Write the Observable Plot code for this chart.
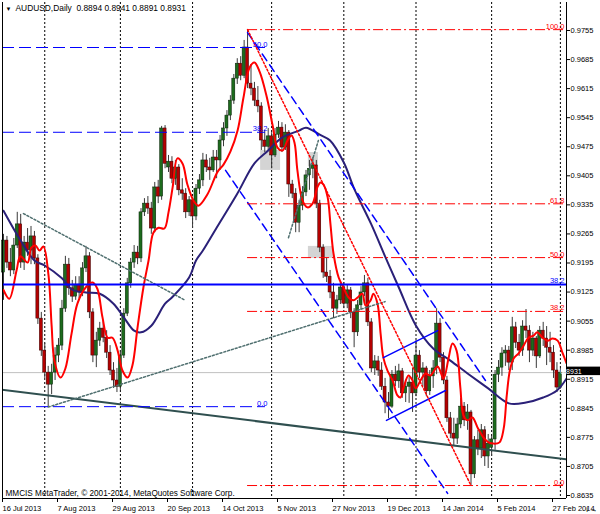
<!DOCTYPE html>
<html><head><meta charset="utf-8">
<script src="https://cdn.jsdelivr.net/npm/d3@7"></script>
<script src="https://cdn.jsdelivr.net/npm/@observablehq/plot@0.6"></script>
<style>body{margin:0;background:#fff}</style>
</head><body><div id="chart"></div>
<script>
// ---------- DATA ----------
const symbol = "AUDUSD", timeframe = "Daily";
const open = [0.9172,0.9249,0.9196,0.9177,0.9237,0.9288,0.9196,0.9244,0.9225,0.9259,0.9206,0.9061,0.8984,0.8931,0.8902,0.8931,0.8972,0.8996,0.9085,0.9191,0.9134,0.9114,0.9143,0.9124,0.9182,0.9211,0.9076,0.8972,0.9008,0.9037,0.9015,0.8979,0.8936,0.8912,0.8897,0.8972,0.9073,0.9146,0.9196,0.9220,0.9206,0.9317,0.9338,0.9326,0.9278,0.9377,0.9355,0.9519,0.9425,0.9439,0.9398,0.9425,0.9370,0.9362,0.9317,0.9346,0.9307,0.9374,0.9394,0.9442,0.9425,0.9418,0.9449,0.9442,0.9490,0.9519,0.9550,0.9586,0.9639,0.9675,0.9646,0.9714,0.9627,0.9615,0.9586,0.9572,0.9490,0.9475,0.9500,0.9454,0.9504,0.9521,0.9473,0.9509,0.9384,0.9362,0.9292,0.9333,0.9365,0.9406,0.9422,0.9430,0.9338,0.9232,0.9172,0.9162,0.9124,0.9085,0.9105,0.9136,0.9097,0.9129,0.9076,0.9028,0.9093,0.9124,0.9146,0.9052,0.8941,0.8958,0.8936,0.8897,0.8859,0.8849,0.8926,0.8910,0.8934,0.8881,0.8897,0.8907,0.8881,0.8972,0.8931,0.8941,0.8886,0.8922,0.8941,0.9049,0.8967,0.8912,0.8821,0.8784,0.8772,0.8806,0.8849,0.8816,0.8835,0.8686,0.8768,0.8748,0.8792,0.8729,0.8750,0.8770,0.8926,0.8943,0.8977,0.8984,0.8955,0.9040,0.9003,0.8984,0.9042,0.9032,0.8984,0.9013,0.8970,0.9032,0.9013,0.8991,0.8979,0.8936,0.8894];
const high = [0.9264,0.9259,0.9230,0.9254,0.9317,0.9312,0.9259,0.9278,0.9283,0.9271,0.9215,0.9076,0.9001,0.8946,0.8951,0.8991,0.9013,0.9105,0.9211,0.9206,0.9153,0.9162,0.9162,0.9196,0.9235,0.9220,0.9085,0.9028,0.9052,0.9056,0.9032,0.8996,0.8955,0.8941,0.8984,0.9085,0.9158,0.9206,0.9237,0.9235,0.9326,0.9350,0.9355,0.9341,0.9389,0.9394,0.9524,0.9526,0.9454,0.9451,0.9442,0.9432,0.9398,0.9374,0.9355,0.9350,0.9384,0.9408,0.9459,0.9456,0.9447,0.9466,0.9466,0.9502,0.9533,0.9562,0.9598,0.9649,0.9687,0.9692,0.9731,0.9757,0.9673,0.9630,0.9620,0.9581,0.9514,0.9519,0.9509,0.9519,0.9536,0.9533,0.9528,0.9514,0.9394,0.9374,0.9346,0.9379,0.9418,0.9442,0.9449,0.9442,0.9346,0.9239,0.9206,0.9177,0.9146,0.9117,0.9148,0.9148,0.9141,0.9136,0.9085,0.9105,0.9138,0.9165,0.9158,0.9061,0.8972,0.8970,0.8955,0.8917,0.8883,0.8936,0.8946,0.8951,0.8941,0.8912,0.8919,0.8941,0.9008,0.8984,0.8955,0.8946,0.8936,0.8960,0.9085,0.9061,0.8979,0.8922,0.8835,0.8821,0.8821,0.8869,0.8859,0.8854,0.8840,0.8777,0.8792,0.8806,0.8801,0.8782,0.8777,0.8936,0.8960,0.8991,0.8996,0.8994,0.9064,0.9052,0.9023,0.9056,0.9083,0.9044,0.9028,0.9018,0.9042,0.9052,0.9042,0.9028,0.8996,0.8955,0.8941];
const low = [0.9105,0.9182,0.9162,0.9167,0.9230,0.9182,0.9177,0.9211,0.9191,0.9191,0.9047,0.8970,0.8917,0.8847,0.8878,0.8912,0.8955,0.8984,0.9076,0.9117,0.9100,0.9105,0.9109,0.9114,0.9172,0.9061,0.8955,0.8943,0.8994,0.9003,0.8965,0.8924,0.8893,0.8883,0.8888,0.8965,0.9066,0.9134,0.9182,0.9191,0.9196,0.9307,0.9312,0.9264,0.9268,0.9338,0.9346,0.9422,0.9413,0.9386,0.9382,0.9357,0.9346,0.9302,0.9307,0.9278,0.9297,0.9360,0.9379,0.9413,0.9394,0.9413,0.9398,0.9418,0.9475,0.9500,0.9538,0.9577,0.9625,0.9634,0.9639,0.9615,0.9598,0.9572,0.9557,0.9466,0.9461,0.9466,0.9422,0.9449,0.9495,0.9461,0.9466,0.9353,0.9350,0.9268,0.9268,0.9321,0.9355,0.9370,0.9398,0.9326,0.9220,0.9158,0.9148,0.9109,0.9061,0.9071,0.9095,0.9085,0.9085,0.9061,0.8991,0.9018,0.9081,0.9114,0.9042,0.8931,0.8924,0.8922,0.8888,0.8832,0.8820,0.8845,0.8897,0.8893,0.8869,0.8859,0.8857,0.8835,0.8873,0.8917,0.8897,0.8873,0.8876,0.8893,0.8926,0.8955,0.8902,0.8811,0.8772,0.8753,0.8758,0.8796,0.8801,0.8792,0.8659,0.8676,0.8731,0.8724,0.8705,0.8700,0.8729,0.8744,0.8907,0.8922,0.8946,0.8936,0.8936,0.8989,0.8970,0.8970,0.9013,0.8955,0.8970,0.8941,0.8965,0.8994,0.8948,0.8955,0.8917,0.8883,0.8891];
const close = [0.9249,0.9196,0.9177,0.9237,0.9288,0.9196,0.9244,0.9225,0.9259,0.9206,0.9061,0.8984,0.8931,0.8902,0.8931,0.8972,0.8996,0.9085,0.9191,0.9134,0.9114,0.9143,0.9124,0.9182,0.9211,0.9076,0.8972,0.9008,0.9037,0.9015,0.8979,0.8936,0.8912,0.8897,0.8972,0.9073,0.9146,0.9196,0.9220,0.9206,0.9317,0.9338,0.9326,0.9278,0.9377,0.9355,0.9519,0.9434,0.9439,0.9398,0.9425,0.9370,0.9362,0.9317,0.9346,0.9307,0.9374,0.9394,0.9442,0.9425,0.9418,0.9449,0.9442,0.9490,0.9519,0.9550,0.9586,0.9639,0.9675,0.9646,0.9714,0.9627,0.9615,0.9586,0.9572,0.9490,0.9475,0.9500,0.9454,0.9504,0.9521,0.9473,0.9509,0.9384,0.9362,0.9292,0.9333,0.9365,0.9406,0.9422,0.9430,0.9338,0.9232,0.9172,0.9162,0.9124,0.9085,0.9105,0.9136,0.9097,0.9129,0.9076,0.9028,0.9093,0.9124,0.9146,0.9052,0.8941,0.8958,0.8936,0.8897,0.8859,0.8849,0.8926,0.8910,0.8934,0.8881,0.8897,0.8907,0.8881,0.8972,0.8931,0.8941,0.8886,0.8922,0.8941,0.9049,0.8967,0.8912,0.8821,0.8784,0.8772,0.8806,0.8849,0.8816,0.8835,0.8686,0.8768,0.8748,0.8792,0.8729,0.8760,0.8770,0.8926,0.8943,0.8977,0.8984,0.8955,0.9040,0.9003,0.8984,0.9042,0.9032,0.8984,0.9013,0.8970,0.9032,0.9013,0.8991,0.8979,0.8936,0.8895,0.8931];

// fast (red) moving average: bar index / price
const redIdx = [0,1.7,3.8,4.9,7.0,8.1,9.3,10.5,11.6,13.1,14.0,14.8,16.6,18.0,19.8,21.5,23.9,25.9,27.3,28.8,30.3,31.7,33.2,34.6,36.1,37.5,39.0,40.7,42.2,43.6,45.1,46.8,48.0,49.2,50.6,52.1,53.5,55.3,56.7,59.3,62.3,64.0,66.0,68.1,69.8,71.6,73.0,74.5,76.5,78.3,79.7,81.2,82.6,83.8,84.7,85.5,87.0,88.4,89.9,91.3,92.2,93.1,94.3,95.1,96.0,97.5,98.9,100.4,101.8,103.0,104.4,105.3,106.8,107.6,108.8,109.7,110.5,111.7,113.2,114.6,115.5,116.4,117.8,119.0,119.9,121.3,122.8,124.2,126.3,128.0,129.5,130.6,131.8,132.9,133.8,135.0,136.4,137.9,139.6,141.1,142.5,144.3,145.5,146.4,147.3,148.4,149.8,151.3,152.7,154.2,155.3,156.8,158.3,159.7,161.2,162.6,163.8];
const redVal = [0.9130,0.9109,0.9177,0.9211,0.9196,0.9232,0.9237,0.9225,0.9235,0.9165,0.9044,0.8960,0.8919,0.8941,0.9025,0.9097,0.9136,0.9148,0.9133,0.9064,0.9015,0.9015,0.8984,0.8936,0.8919,0.8948,0.9040,0.9136,0.9201,0.9268,0.9280,0.9278,0.9317,0.9377,0.9447,0.9434,0.9384,0.9345,0.9333,0.9360,0.9415,0.9432,0.9463,0.9514,0.9593,0.9666,0.9678,0.9656,0.9598,0.9526,0.9473,0.9466,0.9490,0.9502,0.9483,0.9418,0.9345,0.9329,0.9338,0.9377,0.9389,0.9384,0.9353,0.9290,0.9218,0.9160,0.9136,0.9112,0.9105,0.9112,0.9121,0.9093,0.9105,0.9121,0.9097,0.9025,0.8967,0.8936,0.8912,0.8876,0.8871,0.8895,0.8924,0.8912,0.8893,0.8912,0.8929,0.8924,0.8946,0.8917,0.8967,0.9001,0.8984,0.8895,0.8828,0.8816,0.8823,0.8799,0.8775,0.8763,0.8760,0.8763,0.8796,0.8876,0.8936,0.8965,0.8977,0.8996,0.9015,0.9020,0.9028,0.9015,0.9008,0.9013,0.9008,0.8979,0.8953];
// slow (navy) moving average
const navyIdx = [0,5,9,12,17,20,24,28,32,35,38,40,43,47,49,54,56,58,62,68,73,77,81,86,88,92,95,99,102,107,111,115,120,125,130,135,141,147,152,157,161,163.8];
const navyVal = [0.9321,0.9249,0.9201,0.9189,0.9158,0.9131,0.9124,0.9121,0.9097,0.9064,0.9032,0.9028,0.9044,0.9097,0.9112,0.9160,0.9201,0.9225,0.9280,0.9362,0.9435,0.9466,0.9497,0.9514,0.9521,0.9504,0.9490,0.9437,0.9374,0.9288,0.9211,0.9136,0.9044,0.8989,0.8960,0.8929,0.8893,0.8857,0.8859,0.8871,0.8888,0.8917];

// axis ticks
const yTicks = [0.8635,0.8705,0.8775,0.8845,0.8915,0.8985,0.9055,0.9125,0.9195,0.9265,0.9335,0.9405,0.9475,0.9545,0.9615,0.9685,0.9755];
const xTickIdx = [0,16,32,48,64,80,96,112,128,144,160];
const xTickLabels = ["16 Jul 2013","7 Aug 2013","29 Aug 2013","20 Sep 2013","14 Oct 2013","5 Nov 2013","27 Nov 2013","19 Dec 2013","14 Jan 2014","5 Feb 2014","27 Feb 2014"];
const separatorIdx = [12,34,55,78,99,120,142,162];

// Fibonacci objects
const fibRedHigh = 0.9757, fibRedLow = 0.8659, fibRedStart = 71;
const fibRedLevels = [0, 38.2, 50, 61.8, 100];
const fibBlueZero = 0.8849, fibBlueHalf = 0.9714, fibBlueEnd = 76.2;
const fibBlueLevels = [0, 38.2, 50];
const hLineBlue = 0.9143, hLineBlueLabel = "38.2";

// trend lines / channels (bar index, price)
const trendMain = [[-0.87, 0.8890], [163.8, 0.8722]];
const channelUpper = [[71, 0.9750], [140.2, 0.8912]];
const channelLower = [[64.6, 0.9418], [129.2, 0.8640]];
const fibDiag = [[71, 0.9757], [136, 0.8659]];
const dotRising = [[13, 0.8848], [111, 0.9102]];
const dotFalling = [[5.8, 0.9314], [52.9, 0.9105]];
const dotSteep = [[82.9, 0.9256], [91.6, 0.9490]];
const boxUpper = [[110.5, 0.8967], [126.3, 0.9032]];
const boxLower = [[111.4, 0.8816], [128.6, 0.8888]];
const grayRects = [[74.8, 80.6, 0.9418, 0.9466], [88.7, 91.6, 0.9427, 0.9461], [88.7, 96.0, 0.9206, 0.9235]];

const captionText = "MMCIS MetaTrader, \u00A9 2001-2014, MetaQuotes Software Corp.";

// ---------- CHART ----------
const last = close.length - 1;
const bars = close.map((c, i) => ({i, o: open[i], h: high[i], l: low[i], c}));
const bull = bars.filter(d => d.c >= d.o), bear = bars.filter(d => d.c < d.o);
const xDomain = [-0.291, 163.78];
const yDomain = [0.86278, 0.98224];
const xLabel = new Map(xTickIdx.map((d, k) => [d, xTickLabels[k]]));
const redPts = redIdx.map((x, k) => [x, redVal[k]]);
const navyPts = navyIdx.map((x, k) => [x, navyVal[k]]);
const fibRed = fibRedLevels.map(l => ({l, p: fibRedLow + (fibRedHigh - fibRedLow) * l / 100}));
const fibBlue = fibBlueLevels.map(l => ({l, p: fibBlueZero + (fibBlueHalf - fibBlueZero) * 2 * l / 100}));
const seg = (arr, opts) => Plot.line(arr, {x: d => d[0], y: d => d[1], clip: true, ...opts});
const font = "'Liberation Sans', Arial, sans-serif";
const title = `${symbol},${timeframe}  ${open[last].toFixed(4)} ${high[last].toFixed(4)} ${low[last].toFixed(4)} ${close[last].toFixed(4)}`;

const chart = Plot.plot({
  width: 600, height: 514,
  marginLeft: 2, marginRight: 34, marginTop: 2, marginBottom: 16,
  x: {type: "linear", domain: xDomain, axis: null},
  y: {type: "linear", domain: yDomain, axis: null},
  style: {fontFamily: font, fontSize: "7.5px", background: "#fff", color: "#000"},
  marks: [
    Plot.rect(grayRects, {x1: d => d[0], x2: d => d[1], y1: d => d[2], y2: d => d[3], fill: "#d4d4d4"}),
    Plot.ruleX(separatorIdx, {stroke: "#000", strokeDasharray: "2,2", strokeWidth: 1}),
    Plot.ruleY([close[last]], {stroke: "#c0c0c0", strokeWidth: 1}),
    // candles
    Plot.ruleX(bars, {x: "i", y1: "l", y2: "h", stroke: "#3a3a3a", strokeWidth: 1}),
    Plot.rect(bull, {x1: d => d.i - 0.44, x2: d => d.i + 0.44, y1: "o", y2: "c", fill: "#1d6b1d", stroke: "#0a200a", strokeWidth: 0.5}),
    Plot.rect(bear, {x1: d => d.i - 0.44, x2: d => d.i + 0.44, y1: "o", y2: "c", fill: "#b40000", stroke: "#300000", strokeWidth: 0.5}),
    // moving averages
    seg(navyPts, {stroke: "#2a2078", strokeWidth: 2, curve: "catmull-rom"}),
    seg(redPts, {stroke: "#ff0000", strokeWidth: 2, curve: "catmull-rom"}),
    // objects
    seg(trendMain, {stroke: "#2f4f4f", strokeWidth: 2}),
    seg(dotRising, {stroke: "#4f6f6f", strokeDasharray: "2,2"}),
    seg(dotFalling, {stroke: "#4f6f6f", strokeDasharray: "2,2"}),
    seg(dotSteep, {stroke: "#4f6f6f", strokeDasharray: "2,2"}),
    seg(channelUpper, {stroke: "#0000ff", strokeDasharray: "8,5"}),
    seg(channelLower, {stroke: "#0000ff", strokeDasharray: "8,5"}),
    seg(boxUpper, {stroke: "#0000ff"}),
    seg(boxLower, {stroke: "#0000ff"}),
    seg(fibDiag, {stroke: "#ff0000", strokeDasharray: "2,2"}),
    Plot.ruleY(fibRed, {y: "p", x1: fibRedStart, x2: xDomain[1], stroke: "#ff0000", strokeDasharray: "10,3,2,3"}),
    Plot.text(fibRed, {y: "p", x: xDomain[1], text: d => d.l.toFixed(1), textAnchor: "end", lineAnchor: "bottom", dx: -2, dy: -1, fill: "#ff0000", fontSize: 7.5}),
    Plot.ruleY(fibBlue, {y: "p", x1: xDomain[0], x2: fibBlueEnd, stroke: "#0000ff", strokeDasharray: "12,5"}),
    Plot.text(fibBlue, {y: "p", x: fibBlueEnd, text: d => d.l.toFixed(1), textAnchor: "end", lineAnchor: "bottom", dx: 2, dy: -1, fill: "#0000ff", fontSize: 7.5}),
    Plot.ruleY([hLineBlue], {stroke: "#0000ff", strokeWidth: 2}),
    Plot.text([hLineBlue], {y: d => d, x: xDomain[1], text: () => hLineBlueLabel, textAnchor: "end", lineAnchor: "bottom", dx: -2, dy: -2, fill: "#0000ff", fontSize: 7.5}),
    // title & caption
    Plot.text(["\u25BC"], {frameAnchor: "top-left", dx: 3, dy: 4, lineAnchor: "top", textAnchor: "start", fontSize: 6}),
    Plot.text([title], {frameAnchor: "top-left", dx: 13, dy: 3, lineAnchor: "top", textAnchor: "start", fontSize: 8.4}),
    Plot.text([captionText], {frameAnchor: "bottom-left", dx: 3, dy: -3, lineAnchor: "bottom", textAnchor: "start", fontSize: 8.2}),
    // frame & axes
    Plot.ruleX([xDomain[0], xDomain[1]], {stroke: "#000"}),
    Plot.ruleY([yDomain[0]], {stroke: "#000"}),
    Plot.axisY(yTicks, {anchor: "right", tickSize: 3, tickPadding: 1, tickFormat: d => d.toFixed(4), fontSize: 7.5}),
    Plot.axisX(xTickIdx, {anchor: "bottom", tickSize: 4, tickPadding: 3, tickFormat: d => xLabel.get(d), textAnchor: "start", dx: -1, fontSize: 7.5})
  ]
});

// current price marker on the price axis
const yCur = chart.scale("y").apply(close[last]);
const svg = d3.select(chart);
svg.append("rect").attr("x", 567).attr("y", yCur - 5.5).attr("width", 33).attr("height", 8.5).attr("fill", "#000");
svg.append("text").attr("x", 571).attr("y", yCur + 1.8).attr("fill", "#fff")
  .attr("font-family", font).attr("font-size", 7).text(close[last].toFixed(4));
document.getElementById("chart").appendChild(chart);
</script>
</body></html>
